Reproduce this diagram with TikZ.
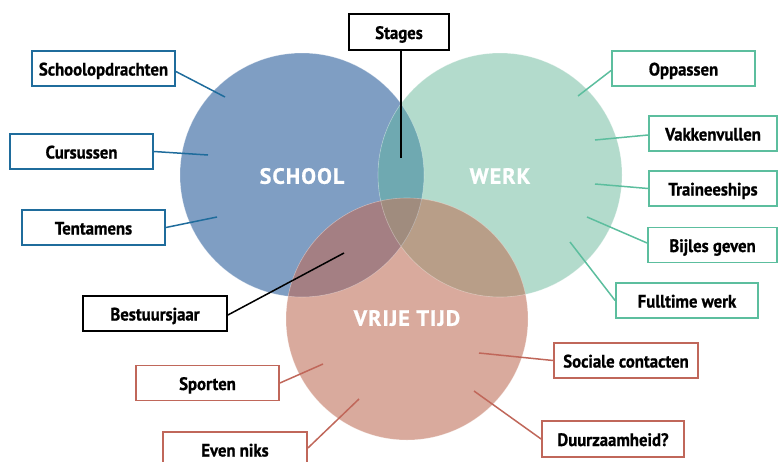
\documentclass[tikz,border=0pt]{standalone}
\usepackage{fontspec}
\setmainfont[FakeStretch=0.93, BoldFeatures={FakeBold=0.8}]{PT Sans}
\newfontfamily\circfont[LetterSpace=5, BoldFeatures={FakeBold=1}]{PT Sans}
\definecolor{schoolC}{HTML}{7F9EC3}
\definecolor{werkC}{HTML}{B3DBCC}
\definecolor{vrijC}{HTML}{D9AA9D}
\definecolor{swC}{HTML}{6FA9B1}
\definecolor{svC}{HTML}{A47F83}
\definecolor{wvC}{HTML}{B89E88}
\definecolor{swvC}{HTML}{A08C7E}
\definecolor{blueL}{HTML}{1F6C9C}
\definecolor{greenL}{HTML}{5CBE9E}
\definecolor{redL}{HTML}{C0675A}
\tikzset{
  lbl/.style={draw, line width=1.8pt, fill=white, minimum width=143pt, minimum height=35pt, inner sep=0pt,
    font=\bfseries\fontsize{18}{18}\selectfont, text height=14pt, text depth=0pt},
  bbox/.style={lbl, draw=blueL},
  gbox/.style={lbl, draw=greenL},
  rbox/.style={lbl, draw=redL},
  kbox/.style={lbl, draw=black},
  bline/.style={draw=blueL, line width=1.5pt},
  gline/.style={draw=greenL, line width=1.5pt},
  rline/.style={draw=redL, line width=1.5pt},
  kline/.style={draw=black, line width=1.5pt},
  circlbl/.style={text=white, font=\circfont\bfseries\fontsize{22}{22}\selectfont, text height=15.5pt, text depth=0pt, inner sep=0pt}
}
\begin{document}
\begin{tikzpicture}[x=1pt,y=-1pt]
\useasboundingbox (0,0) rectangle (782,461);
\coordinate (cS) at (302,175);
\coordinate (cW) at (500,175);
\coordinate (cV) at (407,319);
% circles
\fill[schoolC] (cS) circle[radius=122pt];
\fill[werkC] (cW) circle[radius=122pt];
\fill[vrijC] (cV) circle[radius=121pt];
\begin{scope}
  \clip (cW) circle[radius=122pt];
  \fill[wvC] (cV) circle[radius=121pt];
\end{scope}
\begin{scope}
  \clip (cS) circle[radius=122pt];
  \fill[swC] (cW) circle[radius=122pt];
  \fill[svC] (cV) circle[radius=121pt];
  \clip (cW) circle[radius=122pt];
  \fill[swvC] (cV) circle[radius=121pt];
\end{scope}
\draw[white, opacity=0.35, line width=0.6pt] (cS) circle[radius=122pt] (cW) circle[radius=122pt] (cV) circle[radius=121pt];
% circle labels
\node[circlbl] (tS) at (302,176) {SCHOOL};
\node[circlbl] (tW) at (500,176) {WERK};
\node[circlbl] (tV) at (407,318) {VRIJE TIJD};
% anchor points inside circles
\coordinate (pSchoolopdr) at (225,97);
\coordinate (pCursussen) at (208,155);
\coordinate (pTentamens) at (217,217);
\coordinate (pStages) at (401,158);
\coordinate (pOppassen) at (578,96);
\coordinate (pVakken) at (595,140);
\coordinate (pTrainee) at (595,184);
\coordinate (pBijles) at (587,217);
\coordinate (pFulltime) at (570,242);
\coordinate (pSociale) at (479,353);
\coordinate (pDuurz) at (474,391);
\coordinate (pBestuur) at (344,253);
\coordinate (pSporten) at (323,364);
\coordinate (pEvenniks) at (359,399);
% boxes
\node[bbox] (bSchoolopdr) at (103.5,68.5) {Schoolopdrachten};
\node[bbox] (bCursussen) at (81.5,151.5) {Cursussen};
\node[bbox] (bTentamens) at (93.5,227.5) {Tentamens};
\node[kbox, minimum width=100pt, minimum height=36pt] (bStages) at (399,32) {Stages};
\node[gbox] (bOppassen) at (683.5,68.5) {Oppassen};
\node[gbox, minimum width=128pt] (bVakken) at (713,133.5) {Vakkenvullen};
\node[gbox, minimum width=128pt] (bTrainee) at (713,188.5) {Traineeships};
\node[gbox, minimum width=129pt] (bBijles) at (712.5,245) {Bijles geven};
\node[gbox, minimum width=142pt] (bFulltime) at (687,300.5) {Fulltime werk};
\node[rbox, minimum width=144pt] (bSociale) at (626,360.5) {Sociale contacten};
\node[rbox, minimum width=142pt, minimum height=36pt] (bDuurz) at (613,439) {Duurzaamheid?};
\node[kbox, minimum width=144pt] (bBestuur) at (155,313.5) {Bestuursjaar};
\node[rbox] (bSporten) at (207.5,383) {Sporten};
\node[rbox, minimum width=144pt] (bEvenniks) at (235,449.5) {Even niks};
% connectors
\draw[bline] ([yshift=-3pt]bSchoolopdr.east) -- (pSchoolopdr);
\draw[bline] (bCursussen.east) -- (pCursussen);
\draw[bline] (bTentamens.east) -- (pTentamens);
\draw[kline] ([xshift=2pt]bStages.south) -- (pStages);
\draw[gline] ([yshift=-2pt]bOppassen.west) -- (pOppassen);
\draw[gline] ([yshift=-1.5pt]bVakken.west) -- (pVakken);
\draw[gline] (bTrainee.west) -- (pTrainee);
\draw[gline] ([yshift=2pt]bBijles.west) -- (pBijles);
\draw[gline] (bFulltime.west) -- (pFulltime);
\draw[rline] (bSociale.west) -- (pSociale);
\draw[rline] (bDuurz.west) -- (pDuurz);
\draw[kline] ([yshift=-1.5pt]bBestuur.east) -- (pBestuur);
\draw[rline] (bSporten.east) -- (pSporten);
\draw[rline] ([yshift=1.5pt]bEvenniks.east) -- (pEvenniks);
\end{tikzpicture}
\end{document}
